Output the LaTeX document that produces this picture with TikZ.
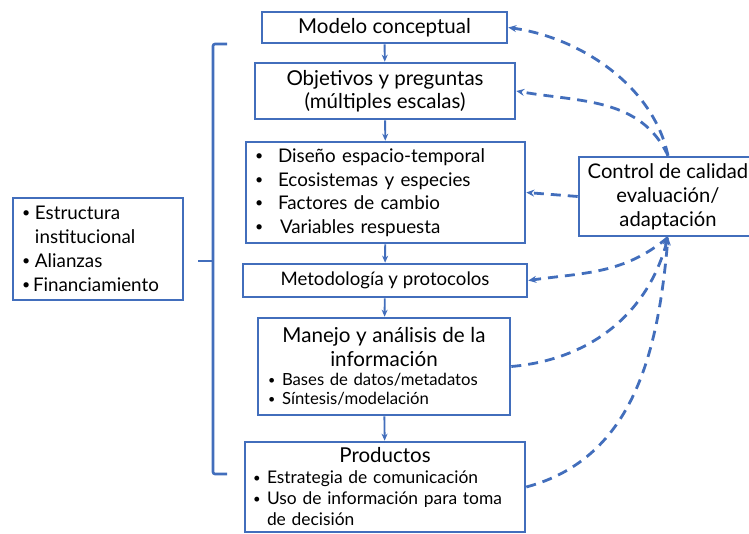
\documentclass[tikz,border=0pt]{standalone}
\usepackage{fontspec}
\setmainfont{Lato}
\usetikzlibrary{arrows.meta}
\definecolor{azul}{RGB}{66,110,188}
\tikzset{
  caja/.style={draw=azul, line width=2.6pt, rectangle, inner ysep=0pt, align=center},
  flecha/.style={draw=azul, line width=1.9pt, -{Stealth[length=7pt,width=6pt]}},
  retro/.style={draw=azul, line width=2.8pt, dash pattern=on 10pt off 7pt,
    -{Stealth[length=8pt,width=7pt]}},
}
\newcommand{\punto}[1]{\makebox[#1][l]{\raisebox{0.1em}{\scalebox{0.75}{\textbullet}}}}
\begin{document}
\begin{tikzpicture}[x=1pt,y=-1pt]
    \clip (0,0) rectangle (749,534);
    \node[caja, minimum width=245pt, minimum height=31pt, font=\fontsize{20.5}{23}\selectfont]
        (modelo) at (384.5,27.5) {Modelo conceptual};
    \node[caja, minimum width=260pt, minimum height=56pt, font=\fontsize{20.5}{23}\selectfont]
        (objetivos) at (385,91) {Objetivos y preguntas\\(múltiples escalas)};
    \node[caja, minimum width=279pt, minimum height=101pt, inner xsep=9pt, text width=261pt,
        align=left, font=\fontsize{18.8}{23.5}\selectfont]
        (diseno) at (385.5,192.5) {\punto{23pt}Diseño espacio-temporal\\
        \punto{23pt}Ecosistemas y especies\\
        \punto{23pt}Factores de cambio\\
        \punto{25pt}Variables respuesta};
    \node[caja, minimum width=284pt, minimum height=33pt, font=\fontsize{18.6}{21}\selectfont]
        (metodo) at (385,280.5) {Metodología y protocolos};
    \node[caja, minimum width=252pt, minimum height=97pt, inner xsep=10pt, text width=232pt,
        align=left, font=\fontsize{16.7}{19}\selectfont]
        (manejo) at (384,366.5) {{\centering\fontsize{20.6}{24}\selectfont
        Manejo y análisis de la\\información\par}
        \punto{14pt}Bases de datos/metadatos\\
        \punto{14pt}Síntesis/modelación};
    \node[caja, minimum width=280pt, minimum height=90pt, inner xsep=8pt, text width=264pt,
        align=left, font=\fontsize{17.4}{21}\selectfont]
        (productos) at (385,487) {{\centering\fontsize{20.5}{22}\selectfont Productos\par}
        \punto{14pt}Estrategia de comunicación\\
        \punto{14pt}Uso de información para toma\\
        \hspace*{14pt}de decisión};
    \node[caja, minimum width=170pt, minimum height=102pt, inner xsep=9pt, text width=152pt,
        align=left, font=\fontsize{18.8}{24}\selectfont]
        (inst) at (98,249) {\punto{13pt}Estructura\\
        \hspace*{13pt}institucional\\
        \punto{13pt}Alianzas\\
        \punto{11pt}Financiamiento};
    \node[caja, minimum width=178pt, minimum height=79pt, font=\fontsize{20.2}{24}\selectfont]
        (ctrl) at (668,196.5) {Control de calidad\\evaluación/\\adaptación};
    % llave
    \coordinate (llavearriba) at (227,44);
    \coordinate (llaveabajo) at (227,474);
    \coordinate (llavepico) at (198,261);
    \draw[azul, line width=2.6pt, rounded corners=2pt]
        (llavearriba) -- (213,44) -- (213,474) -- (llaveabajo);
    \draw[azul, line width=2.6pt] (213,261) -- (llavepico);
    % flujo principal
    \draw[flecha] (modelo) -- (objetivos);
    \draw[flecha] (objetivos) -- (diseno);
    \draw[flecha] (diseno) -- (metodo);
    \draw[flecha] (metodo) -- (manejo);
    \draw[flecha] (manejo) -- (productos);
    % retroalimentacion
    \draw[retro] (ctrl.north) to[out=102, in=-8, looseness=0.9] (modelo.east);
    \draw[retro] (ctrl.north) to[out=115, in=-10] (objetivos.east);
    \draw[retro] (ctrl.west) -- (diseno.east);
    \draw[retro] (ctrl.south) to[out=-140, in=8] (metodo.east);
    \draw[retro] (manejo.east) to[out=5, in=-105] (ctrl.south);
    \draw[retro] (productos.east) to[out=15, in=-95] (ctrl.south);
\end{tikzpicture}
\end{document}
